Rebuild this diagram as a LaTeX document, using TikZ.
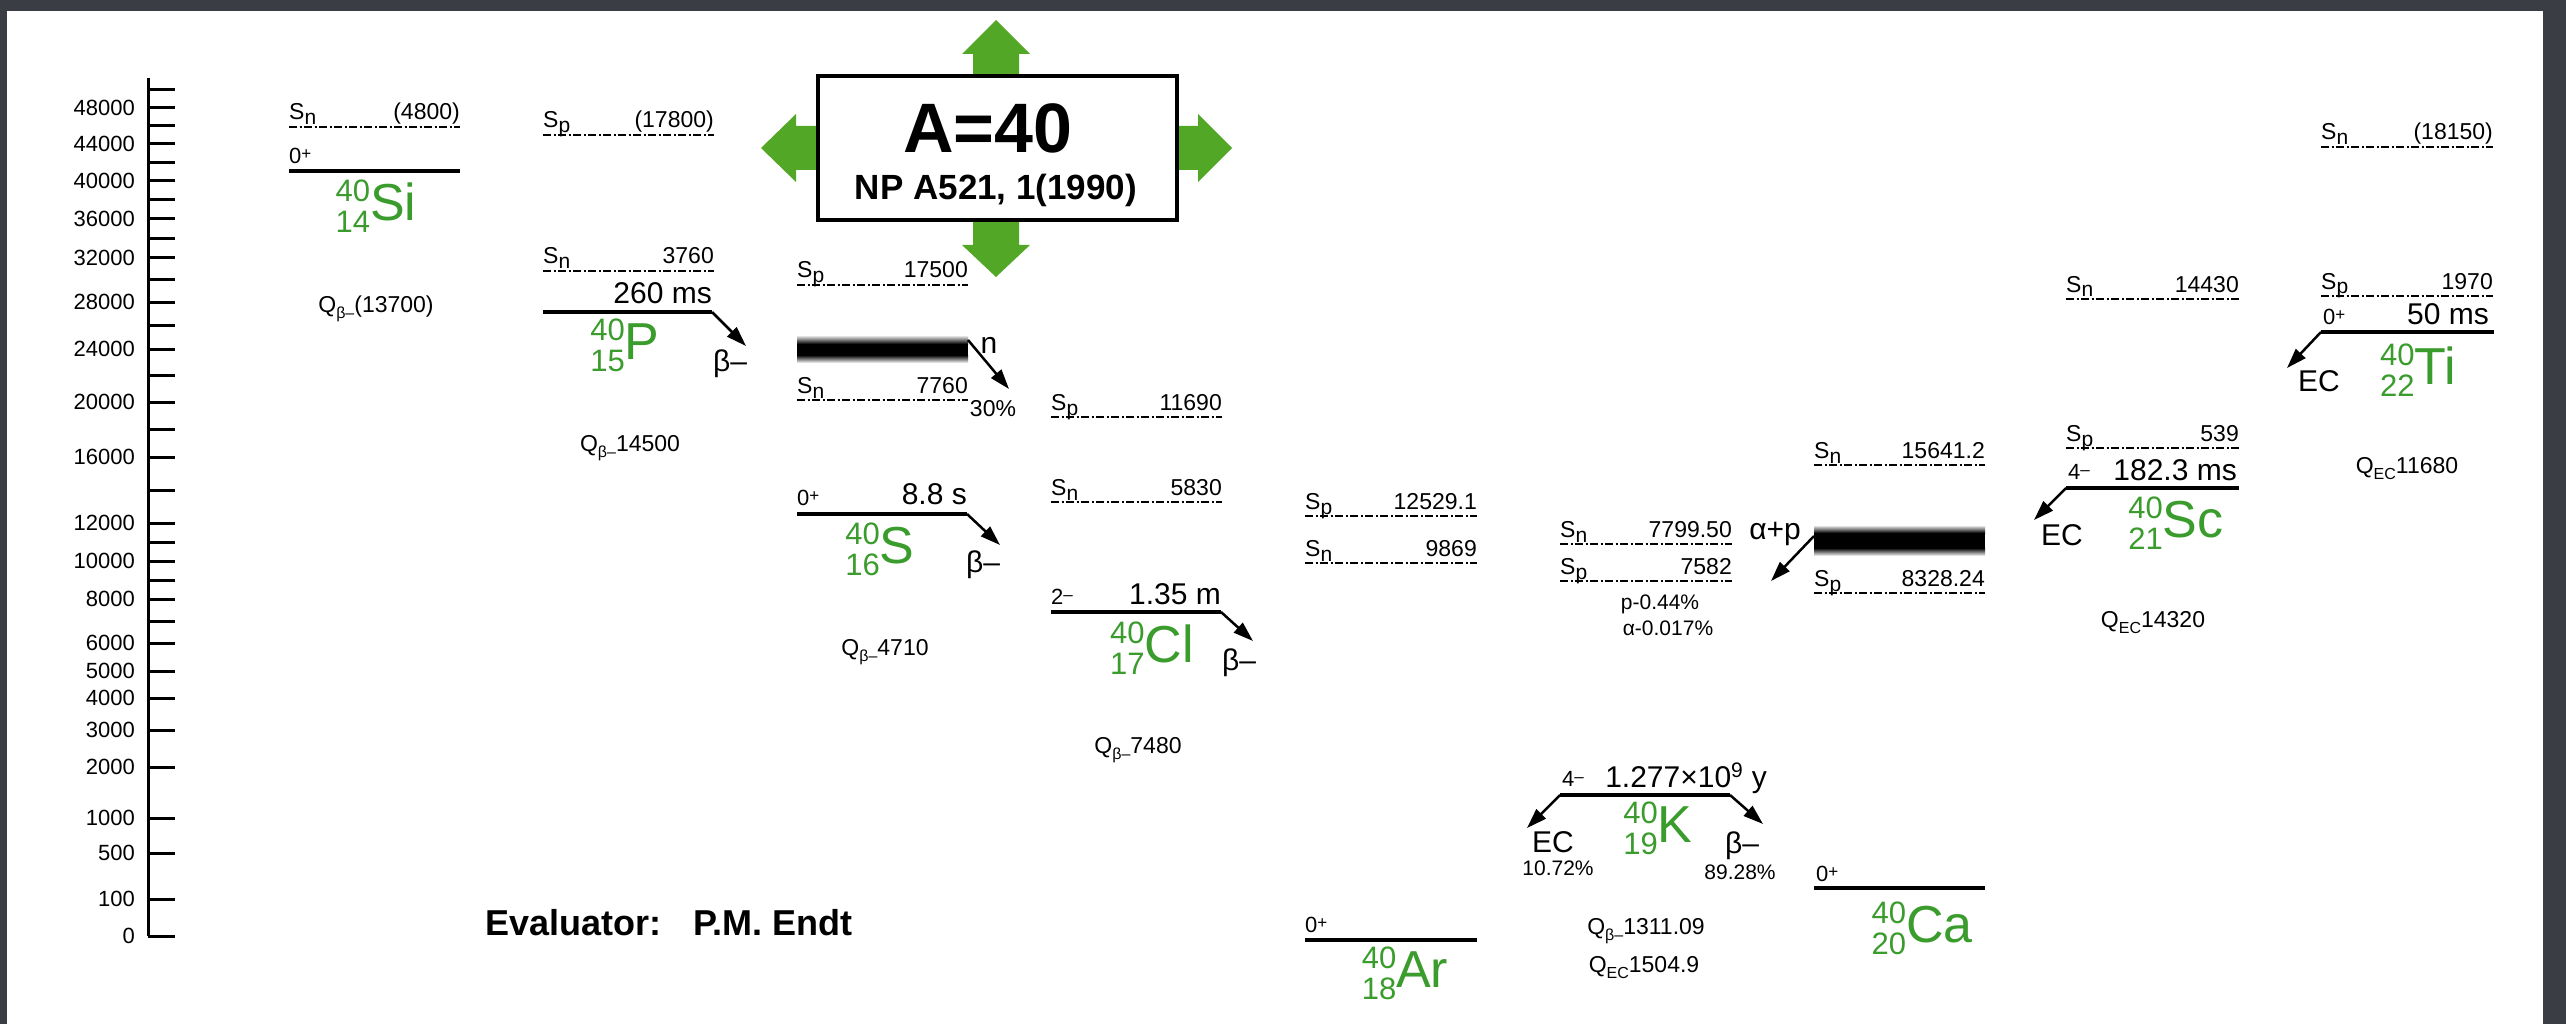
\documentclass[tikz,border=0pt]{standalone}
\usepackage{fontspec}
\setmainfont{Liberation Sans}
\usetikzlibrary{arrows.meta}
\definecolor{framegray}{RGB}{58,61,67}
\definecolor{isogreen}{RGB}{58,156,44}
\definecolor{arrgreen}{RGB}{82,168,38}
\newcommand{\myfs}[1]{\fontsize{#1}{#1}\selectfont}
\newcommand{\mysub}[1]{\raisebox{-5pt}{\myfs{21}#1}}
\newcommand{\qs}[1]{\raisebox{-6pt}{\myfs{16}#1}}
\newcommand{\spn}[2]{{\myfs{22}#1}\raisebox{4pt}{\myfs{17}#2}}
\newcommand{\isot}[3]{\rlap{\raisebox{19pt}{\myfs{31}#1}}\raisebox{-12pt}{\myfs{31}#2}{\myfs{52}#3}}
\tikzset{
  stxt/.style={inner sep=0pt, font=\myfs{23}},
  mtxt/.style={inner sep=0pt, font=\myfs{30}},
  ptxt/.style={inner sep=0pt, font=\myfs{21}},
  axl/.style={inner sep=0pt, font=\myfs{22}, anchor=east},
  sepline/.style={line width=2pt, dash pattern=on 8pt off 2.5pt on 2pt off 2.5pt},
  lvl/.style={line width=4.5pt},
  decay/.style={line width=2.5pt, -{Triangle[length=20pt,width=13pt]}},
  isolab/.style={inner sep=0pt, text=isogreen},
  tick/.style={line width=3pt}
}
\newcommand{\sepl}[6]{%
  \coordinate (#1a) at (#2,#4);
  \coordinate (#1b) at (#3,#4);
  \draw[sepline] (#1a) -- (#1b);
  \node[stxt, anchor=base west] (#1l) at (#2,#4-7) {#5};
  \node[stxt, anchor=base east] (#1v) at (#3,#4-7) {#6};
}
\begin{document}
\begin{tikzpicture}[x=1pt,y=-1pt]
\useasboundingbox (0,0) rectangle (2566,1024);
\fill[framegray] (0,0) rectangle (2566,1024);
\fill[white] (7,11) rectangle (2543,1024);

% ---------------- axis
\coordinate (axtop) at (148,78);
\coordinate (axbot) at (148,936);
\draw[tick] (axtop) -- (axbot);
\foreach \y in {90,108,126,144,162.5,181,200,219,238.5,258,280,302,325.5,349,375.5,402,429.5,457,490,523,542,561,580,599,621,643,671,698,730,767,818,853,899,936}
  \draw[tick] (148,\y) -- (175,\y);
\foreach \v/\y in {48000/108,44000/144,40000/181,36000/219,32000/258,28000/302,24000/349,20000/402,16000/457,12000/523,10000/561,8000/599,6000/643,5000/671,4000/698,3000/730,2000/767,1000/818,500/853,100/899,0/936}
  \node[axl] (ax\v) at (135,\y) {\v};

% ---------------- title box with green arrows
\fill[arrgreen] (973,80) -- (973,54) -- (962,54) -- (996,20) -- (1030,54) -- (1019,54) -- (1019,80) -- cycle;
\fill[arrgreen] (973,216) -- (973,245) -- (962,245) -- (996,277) -- (1030,245) -- (1019,245) -- (1019,216) -- cycle;
\fill[arrgreen] (822,126) -- (796,126) -- (796,114) -- (761,148) -- (796,182) -- (796,170) -- (822,170) -- cycle;
\fill[arrgreen] (1173,126) -- (1198,126) -- (1198,114) -- (1232,148) -- (1198,182) -- (1198,170) -- (1173,170) -- cycle;
\node[draw, line width=4pt, fill=white, minimum width=359pt, minimum height=144pt, inner sep=0pt] (box) at (997.5,148) {};
\node[inner sep=0pt, font=\bfseries\myfs{70}] (a40) at (988,128) {A=40};
\node[inner sep=0pt, font=\bfseries\myfs{35}] (ref) at (996,190) {NP A521, 1(1990)};

% ---------------- Si
\sepl{siSn}{289}{460}{127}{S\mysub{n}}{(4800)}
\coordinate (siL) at (289,171); \coordinate (siR) at (460,171);
\draw[lvl] (siL) -- (siR);
\node[stxt, anchor=base west] (siJ) at (289,164) {\spn{0}{+}};
\node[isolab] (si) at (376,206) {\isot{40}{14}{Si}};
\node[stxt] (siQ) at (376,309) {Q\qs{β–}(13700)};

% ---------------- P
\sepl{pSp}{543}{714}{135}{S\mysub{p}}{(17800)}
\sepl{pSn}{543}{714}{271}{S\mysub{n}}{3760}
\coordinate (pL) at (543,312); \coordinate (pR) at (712,312); \coordinate (pE) at (746,346);
\draw[lvl] (pL) -- (pR);
\draw[decay] (pR) -- (pE);
\node[mtxt, anchor=base east] (pT) at (712,303) {260 ms};
\node[mtxt] (pB) at (730,364) {β–};
\node[isolab] (p) at (625,345) {\isot{40}{15}{P}};
\node[stxt] (pQ) at (630,448) {Q\qs{β–}14500};

% ---------------- S
\sepl{sSp}{797}{968}{285}{S\mysub{p}}{17500}
\shade[top color=white, bottom color=black] (797,335) rectangle (968,344);
\fill[black] (797,344) rectangle (968,355);
\shade[top color=black, bottom color=white] (797,355) rectangle (968,363);
\coordinate (sBand) at (968,340); \coordinate (sNe) at (1009,389);
\draw[decay] (sBand) -- (sNe);
\node[mtxt] (sn) at (989,345) {n};
\sepl{sSn}{797}{968}{400}{S\mysub{n}}{7760}
\node[stxt] (s30) at (993,409) {30\%};
\coordinate (sL) at (797,514); \coordinate (sR) at (967,514); \coordinate (sE) at (1000,545);
\draw[lvl] (sL) -- (sR);
\draw[decay] (sR) -- (sE);
\node[stxt, anchor=base west] (sJ) at (797,505) {\spn{0}{+}};
\node[mtxt, anchor=base east] (sT) at (967,504) {8.8 s};
\node[mtxt] (sB) at (983,565) {β–};
\node[isolab] (s) at (880,549) {\isot{40}{16}{S}};
\node[stxt] (sQ) at (885,652) {Q\qs{β–}4710};

% ---------------- Cl
\sepl{clSp}{1051}{1222}{417}{S\mysub{p}}{11690}
\sepl{clSn}{1051}{1222}{502}{S\mysub{n}}{5830}
\coordinate (clL) at (1051,612); \coordinate (clR) at (1221,612); \coordinate (clE) at (1253,641);
\draw[lvl] (clL) -- (clR);
\draw[decay] (clR) -- (clE);
\node[stxt, anchor=base west] (clJ) at (1051,604) {\spn{2}{–}};
\node[mtxt, anchor=base east] (clT) at (1221,604) {1.35 m};
\node[mtxt] (clB) at (1239,663) {β–};
\node[isolab] (cl) at (1152,648) {\isot{40}{17}{Cl}};
\node[stxt] (clQ) at (1138,750) {Q\qs{β–}7480};

% ---------------- Ar
\sepl{arSp}{1305}{1477}{516}{S\mysub{p}}{12529.1}
\sepl{arSn}{1305}{1477}{563}{S\mysub{n}}{9869}
\coordinate (arL) at (1305,940); \coordinate (arR) at (1477,940);
\draw[lvl] (arL) -- (arR);
\node[stxt, anchor=base west] (arJ) at (1305,932) {\spn{0}{+}};
\node[isolab] (ar) at (1405,973) {\isot{40}{18}{Ar}};

% ---------------- K
\sepl{kSn}{1560}{1732}{544}{S\mysub{n}}{7799.50}
\sepl{kSp}{1560}{1732}{581}{S\mysub{p}}{7582}
\node[ptxt] (kp) at (1660,604) {p-0.44\%};
\node[ptxt] (ka) at (1668,628) {α-0.017\%};
\coordinate (kL) at (1560,795); \coordinate (kR) at (1730,795);
\coordinate (kEL) at (1527,828); \coordinate (kER) at (1763,824);
\draw[lvl] (kL) -- (kR);
\draw[decay] (kL) -- (kEL);
\draw[decay] (kR) -- (kER);
\node[stxt, anchor=base west] (kJ) at (1562,786) {\spn{4}{–}};
\node[mtxt, anchor=base] (kT) at (1686,787) {1.277×10\textsuperscript{9} y};
\node[mtxt] (kEC) at (1553,842) {EC};
\node[ptxt] (kECp) at (1558,868) {10.72\%};
\node[mtxt] (kB) at (1742,846) {β–};
\node[ptxt] (kBp) at (1740,872) {89.28\%};
\node[isolab] (k) at (1658,828) {\isot{40}{19}{K}};
\node[stxt] (kQb) at (1646,931) {Q\qs{β–}1311.09};
\node[stxt] (kQe) at (1644,968) {Q\qs{EC}1504.9};

% ---------------- Ca
\sepl{caSn}{1814}{1985}{465}{S\mysub{n}}{15641.2}
\shade[top color=white, bottom color=black] (1814,525) rectangle (1985,533);
\fill[black] (1814,533) rectangle (1985,548);
\shade[top color=black, bottom color=white] (1814,548) rectangle (1985,556);
\node[mtxt] (cap) at (1775,534) {α+p};
\coordinate (caBand) at (1814,536); \coordinate (caE) at (1771,581);
\draw[decay] (caBand) -- (caE);
\sepl{caSp}{1814}{1985}{593}{S\mysub{p}}{8328.24}
\coordinate (caL) at (1814,888); \coordinate (caR) at (1985,888);
\draw[lvl] (caL) -- (caR);
\node[stxt, anchor=base west] (caJ) at (1816,881) {\spn{0}{+}};
\node[isolab] (ca) at (1922,928) {\isot{40}{20}{Ca}};

% ---------------- Sc
\sepl{scSn}{2066}{2239}{299}{S\mysub{n}}{14430}
\sepl{scSp}{2066}{2239}{448}{S\mysub{p}}{539}
\coordinate (scL) at (2066,488); \coordinate (scR) at (2239,488); \coordinate (scE) at (2034,520);
\draw[lvl] (scL) -- (scR);
\draw[decay] (scL) -- (scE);
\node[stxt, anchor=base west] (scJ) at (2068,479) {\spn{4}{–}};
\node[mtxt, anchor=base east] (scT) at (2237,480) {182.3 ms};
\node[mtxt] (scEC) at (2062,535) {EC};
\node[isolab] (sc) at (2176,523) {\isot{40}{21}{Sc}};
\node[stxt] (scQ) at (2153,623) {Q\qs{EC}14320};

% ---------------- Ti
\sepl{tiSn}{2321}{2493}{147}{S\mysub{n}}{(18150)}
\sepl{tiSp}{2321}{2493}{296}{S\mysub{p}}{1970}
\coordinate (tiL) at (2321,332); \coordinate (tiR) at (2494,332); \coordinate (tiE) at (2287,368);
\draw[lvl] (tiL) -- (tiR);
\draw[decay] (tiL) -- (tiE);
\node[stxt, anchor=base west] (tiJ) at (2323,324) {\spn{0}{+}};
\node[mtxt, anchor=base east] (tiT) at (2489,324) {50 ms};
\node[mtxt] (tiEC) at (2319,381) {EC};
\node[isolab] (ti) at (2418,370) {\isot{40}{22}{Ti}};
\node[stxt] (tiQ) at (2407,469) {Q\qs{EC}11680};

% ---------------- evaluator
\node[inner sep=0pt, font=\bfseries\myfs{36}, anchor=base west] (ev) at (485,935) {Evaluator:\hspace{32pt}P.M. Endt};
\end{tikzpicture}
\end{document}
